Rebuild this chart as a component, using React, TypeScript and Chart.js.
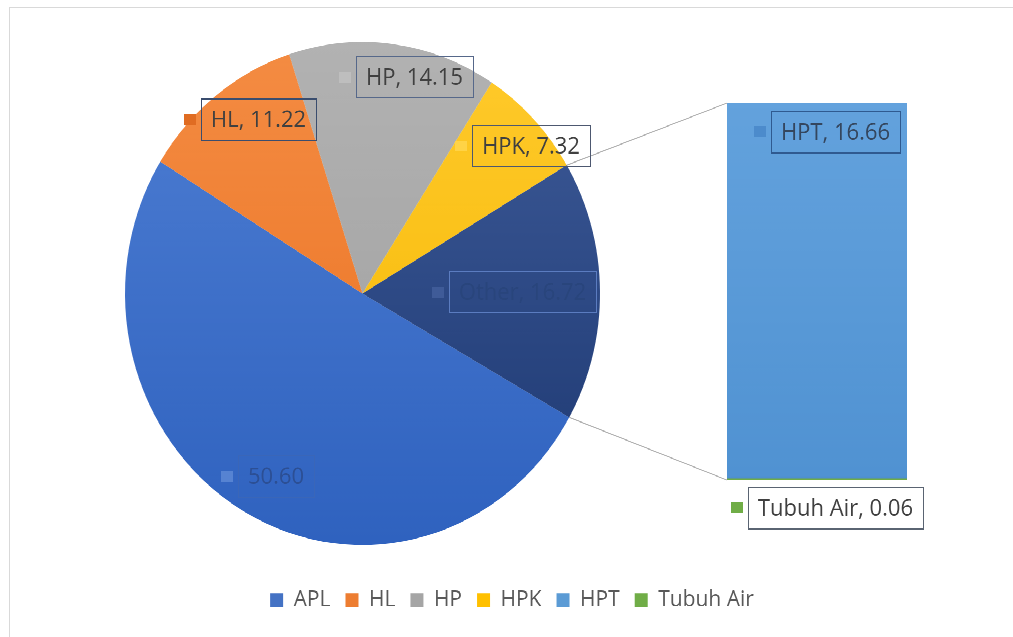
import React, { useEffect, useRef } from 'react';
import { Chart, registerables } from 'chart.js';

Chart.register(...registerables);

// ---------------- data ----------------
const pieCategories = ['APL', 'HL', 'HP', 'HPK', 'Other'];
const pieValues = [50.6, 11.22, 14.15, 7.32, 16.72];
const pieShowName = [false, true, true, true, true];
const barCategories = ['Tubuh Air', 'HPT']; // stacked bottom -> top
const barValues = [0.06, 16.66];
const legendCategories = ['APL', 'HL', 'HP', 'HPK', 'HPT', 'Tubuh Air'];

// ---------------- styles ----------------
const COLORS: Record<string, string> = {
  APL: '#4472C4',
  HL: '#ED7D31',
  HP: '#A5A5A5',
  HPK: '#FFC000',
  Other: '#264478',
  HPT: '#5B9BD5',
  'Tubuh Air': '#70AD47',
};
const GRADIENTS: Record<string, [string, string]> = {
  APL: ['#4e7ed3', '#2f62bf'],
  HL: ['#f48c43', '#ea7020'],
  HP: ['#b2b2b2', '#9e9e9e'],
  HPK: ['#ffca2c', '#f5b700'],
  Other: ['#3f5c9a', '#1c3770'],
  HPT: ['#63a2dd', '#5092d2'],
};
const TAG_STYLE: Record<string, { text: string; border: string; key: string }> = {
  APL: { text: '#2c4f94', border: '#3a66b8', key: '#5683d2' },
  HL: { text: '#404040', border: '#3a4d6e', key: '#e06c22' },
  HP: { text: '#404040', border: '#56688a', key: '#bebebe' },
  HPK: { text: '#404040', border: '#4d5870', key: '#ffd346' },
  Other: { text: '#29457c', border: '#5b7cc0', key: '#3f5b98' },
  HPT: { text: '#34465e', border: '#2f5a90', key: '#4c8bcc' },
  'Tubuh Air': { text: '#404040', border: '#5a6472', key: '#70AD47' },
};

const K = 1.059; // vertical stretch of the picture
const W = 1013;
const H = 602;
const FONT = '"Open Sans", "DejaVu Sans", sans-serif';
const LABEL_FONT = 22;
const TAG_PAD_X = 10;
const TAG_PAD_Y = 8.5;
const KEY_W = 12;
const KEY_H = 10;
const KEY_GAP = 5;

const PIE_ROTATION = 119.5;
const PIE_PAD = { left: 125, right: 413, top: 39.7, bottom: 87.3 };
const PIE_LABEL_RADIUS = [0.83, 0.84, 0.88, 0.895, 0.64];
const PIE_LABEL_SHIFT = [-1.7, 3.8, 4.5, 2.8, 0];

const BAR_TOP = 97.3;
const BAR_LEFT_GAP = 716;
const BAR_RIGHT_GAP = 106;
const BAR_X_GAP = 87.8;
const BAR_LABEL_DX = 10;
const BAR_LABEL_DY_TOP = 27;
const BAR_LABEL_DY_BOTTOM = 26;

function fmt(v: number) {
  return v.toFixed(2);
}

function drawTag(ctx: CanvasRenderingContext2D, cx: number, cy: number, text: string, st: { text: string; border: string; key: string }) {
  ctx.save();
  ctx.font = `${LABEL_FONT}px ${FONT}`;
  const tw = ctx.measureText(text).width;
  const bw = Math.round(tw + 2 * TAG_PAD_X);
  const bh = Math.round(LABEL_FONT + 2 * TAG_PAD_Y);
  const unitW = KEY_W + KEY_GAP + bw;
  const left = Math.round(cx - unitW / 2);
  const top = Math.round(cy - bh / 2);
  ctx.fillStyle = st.key;
  ctx.fillRect(left, Math.round(cy - KEY_H / 2), KEY_W, KEY_H);
  const bl = left + KEY_W + KEY_GAP;
  ctx.strokeStyle = st.border;
  ctx.lineWidth = 1;
  ctx.strokeRect(bl + 0.5, top + 0.5, bw, bh);
  ctx.fillStyle = st.text;
  ctx.textAlign = 'center';
  ctx.textBaseline = 'middle';
  ctx.fillText(text, bl + bw / 2, top + bh / 2 + 1);
  ctx.restore();
}

function gradientFill(name: string) {
  return (c: any) => {
    const area = c.chart.chartArea;
    const g = GRADIENTS[name];
    if (!area || !g) return COLORS[name];
    const grad = c.chart.ctx.createLinearGradient(0, area.top, 0, area.bottom);
    grad.addColorStop(0, g[0]);
    grad.addColorStop(1, g[1]);
    return grad;
  };
}

export default function App() {
  const pieRef = useRef<HTMLCanvasElement | null>(null);
  const barRef = useRef<HTMLCanvasElement | null>(null);

  useEffect(() => {
    document.body.style.margin = '0';
    const pieLabelPlugin = {
      id: 'pieTags',
      afterDatasetsDraw(chart: any) {
        const ctx = chart.ctx;
        const meta = chart.getDatasetMeta(0);
        meta.data.forEach((arc: any, i: number) => {
          const p = arc.getProps(['x', 'y', 'startAngle', 'endAngle', 'outerRadius'], true);
          const mid = (p.startAngle + p.endAngle) / 2 + (PIE_LABEL_SHIFT[i] * Math.PI) / 180;
          const r = p.outerRadius * PIE_LABEL_RADIUS[i];
          const name = pieCategories[i];
          const text = pieShowName[i] ? `${name}, ${fmt(pieValues[i])}` : fmt(pieValues[i]);
          drawTag(ctx, p.x + Math.cos(mid) * r, p.y + Math.sin(mid) * r, text, TAG_STYLE[name]);
        });
      },
    };

    const pie = new Chart(pieRef.current as HTMLCanvasElement, {
      type: 'pie',
      data: {
        labels: pieCategories,
        datasets: [
          {
            data: pieValues,
            backgroundColor: (c: any) => gradientFill(pieCategories[c.dataIndex])(c),
            borderWidth: 0,
          },
        ],
      },
      options: {
        responsive: false,
        animation: false,
        devicePixelRatio: 2,
        events: [],
        rotation: PIE_ROTATION,
        layout: { padding: PIE_PAD },
        plugins: { legend: { display: false }, tooltip: { enabled: false } },
      } as any,
      plugins: [pieLabelPlugin],
    });

    const barPlugin = {
      id: 'barExtras',
      beforeDatasetsDraw(chart: any) {
        const ctx = chart.ctx;
        ctx.save();
        ctx.shadowColor = 'rgba(0,0,0,0.28)';
        ctx.shadowBlur = 6;
        ctx.shadowOffsetX = 2;
        ctx.shadowOffsetY = 3;
      },
      afterDatasetsDraw(chart: any) {
        const ctx = chart.ctx;
        ctx.restore();
        const bottomBar = chart.getDatasetMeta(0).data[0];
        const topBar = chart.getDatasetMeta(1).data[0];
        const tb = topBar.getProps(['x', 'y', 'base', 'width'], true);
        const bb = bottomBar.getProps(['x', 'y', 'base', 'width'], true);
        // connector lines from the "Other" slice to the bar
        const arcMeta = pie.getDatasetMeta(0);
        const other = arcMeta.data[pieCategories.indexOf('Other')] as any;
        const a = other.getProps(['x', 'y', 'startAngle', 'endAngle', 'outerRadius'], true);
        ctx.save();
        ctx.strokeStyle = '#b0b0b0';
        ctx.lineWidth = 1;
        ctx.beginPath();
        ctx.moveTo(a.x + Math.cos(a.startAngle) * a.outerRadius, a.y + Math.sin(a.startAngle) * a.outerRadius);
        ctx.lineTo(tb.x - tb.width / 2, tb.y);
        ctx.moveTo(a.x + Math.cos(a.endAngle) * a.outerRadius, a.y + Math.sin(a.endAngle) * a.outerRadius);
        ctx.lineTo(bb.x - bb.width / 2, bb.base);
        ctx.stroke();
        ctx.restore();
        // tags
        const hptIdx = barCategories.indexOf('HPT');
        const taIdx = barCategories.indexOf('Tubuh Air');
        drawTag(ctx, tb.x + BAR_LABEL_DX, tb.y + BAR_LABEL_DY_TOP, `HPT, ${fmt(barValues[hptIdx])}`, TAG_STYLE.HPT);
        drawTag(ctx, bb.x + BAR_LABEL_DX, bb.base + BAR_LABEL_DY_BOTTOM, `Tubuh Air, ${fmt(barValues[taIdx])}`, TAG_STYLE['Tubuh Air']);
      },
    };

    const barTotal = barValues.reduce((s, v) => s + v, 0);
    const hidden = { grid: { display: false }, border: { display: false }, ticks: { display: false } };

    const bar = new Chart(barRef.current as HTMLCanvasElement, {
      type: 'bar',
      data: {
        labels: ['Other'],
        datasets: barCategories.map((name, i) => ({
          label: name,
          data: [barValues[i]],
          backgroundColor: gradientFill(name),
          borderWidth: 0,
          barPercentage: 1,
          categoryPercentage: 1,
          stack: 'other',
        })),
      },
      options: {
        responsive: false,
        animation: false,
        devicePixelRatio: 2,
        events: [],
        layout: { padding: { left: 11, right: 0, top: BAR_TOP, bottom: 14.9 } },
        scales: {
          x: { ...hidden, stacked: true, afterFit: (s: any) => { s.height = BAR_X_GAP; } },
          y: { ...hidden, stacked: true, min: 0, max: barTotal, afterFit: (s: any) => { s.width = BAR_LEFT_GAP; } },
          y2: { ...hidden, type: 'linear', position: 'right', afterFit: (s: any) => { s.width = BAR_RIGHT_GAP; } },
        },
        plugins: {
          tooltip: { enabled: false },
          legend: {
            position: 'bottom',
            labels: {
              font: { family: FONT, size: 21 },
              color: '#595959',
              boxWidth: 13,
              boxHeight: 13,
              padding: 15,
              generateLabels: () =>
                legendCategories.map((name, i) => ({
                  text: name,
                  fillStyle: COLORS[name],
                  strokeStyle: COLORS[name],
                  lineWidth: 0,
                  hidden: false,
                  fontColor: '#595959',
                  index: i,
                })),
            },
          },
        },
      } as any,
      plugins: [barPlugin],
    });

    return () => {
      bar.destroy();
      pie.destroy();
    };
  }, []);

  return (
    <div style={{ position: 'absolute', left: 0, top: 0, width: W, height: 637, overflow: 'hidden', background: '#fff' }}>
      <div
        style={{
          position: 'absolute',
          left: 9,
          top: 7,
          width: W,
          height: 640,
          borderLeft: '1px solid #d9d9d9',
          borderTop: '1px solid #d9d9d9',
        }}
      />
      <div
        style={{
          position: 'absolute',
          left: 0,
          top: 0,
          width: W,
          height: H,
          transform: `scaleY(${K})`,
          transformOrigin: '0 0',
        }}
      >
        <canvas ref={barRef} width={W} height={H} style={{ position: 'absolute', left: 0, top: 0 }} />
        <canvas ref={pieRef} width={W} height={H} style={{ position: 'absolute', left: 0, top: 0 }} />
      </div>
    </div>
  );
}
